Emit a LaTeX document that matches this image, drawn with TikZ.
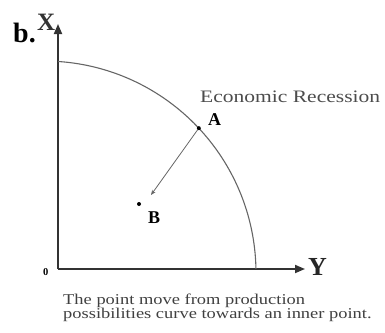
\documentclass[tikz,border=0pt]{standalone}
\usepackage{fontspec}
\setmainfont{Liberation Serif}
\usetikzlibrary{arrows.meta}
\tikzset{
	axis/.style = {line width=1.8pt, draw=black!80, -{Triangle[length=10pt,width=8pt]}},
	ppc/.style = {line width=1.1pt, draw=black!60},
	dot/.style = {circle, fill=black, inner sep=0pt, minimum size=4pt},
	lbl/.style = {inner sep=0pt, anchor=base west},
}
\begin{document}
\begin{tikzpicture} [x=1pt, y=-1pt]
	\useasboundingbox (0,0) rectangle (385,332);
	\coordinate (O) at (58,269);
	\coordinate (Xtop) at (58,24);
	\coordinate (Yend) at (305,269);
	\coordinate (C) at (44,273);
	\draw [axis] (O) -- (Xtop);
	\draw [axis] (O) -- (Yend);
	% production possibilities curve
	\draw [ppc] (C) ++(-86.2:212) arc [start angle=-86.2, end angle=-1.1, radius=212];
	\path (C) ++(-43.1:212) node [dot] (ptA) {};
	\node [dot] (ptB) at (139,204) {};
	\coordinate (tip) at (151,195);
	\draw [line width=0.8pt, black!60, -{Stealth[length=5pt,width=4pt]}] (ptA) -- (tip);
	\node [lbl, font=\bfseries\fontsize{28}{28}\selectfont] (title) at (13,42) {b.};
	\node [lbl, font=\bfseries\fontsize{25}{25}\selectfont, text=black!80] (labX) at (37,30) {X};
	\node [lbl, font=\bfseries\fontsize{26}{26}\selectfont, text=black!85] (labY) at (308,275) {Y};
	\node [lbl, font=\bfseries\fontsize{10.5}{10.5}\selectfont] (labO) at (43,275) {0};
	\node [lbl, font=\bfseries\fontsize{18}{18}\selectfont] (labA) at (208,125) {A};
	\node [lbl, font=\bfseries\fontsize{18}{18}\selectfont] (labB) at (148,223) {B};
	\node [lbl, text=black!70, font=\fontsize{17.5}{17.5}\selectfont] (recession) at (200,102)
		{\scalebox{1.23}[1]{Economic Recession}};
	\node [lbl, text=black!75, font=\fontsize{15}{14.5}\selectfont] (caption) at (63,304)
		{\scalebox{1.23}[1]{\begin{tabular}[t]{@{}l@{}}The point move from production\\possibilities curve towards an inner point.\end{tabular}}};
\end{tikzpicture}
\end{document}
